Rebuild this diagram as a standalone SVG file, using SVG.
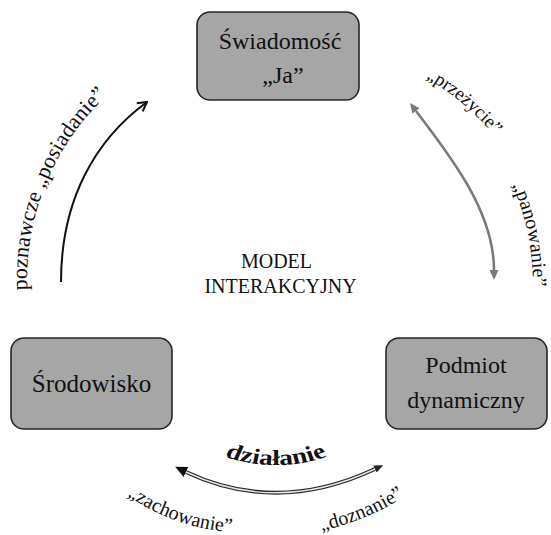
<svg xmlns="http://www.w3.org/2000/svg" width="551" height="535" viewBox="0 0 551 535">
  <style>
    .box { fill: #a6a6a6; stroke: #262626; stroke-width: 1.6; }
    text { font-family: "Liberation Serif", "Times New Roman", Times, serif; fill: #111; }
    .bt { font-size: 24px; text-anchor: middle; }
    .lbl { font-size: 20px; }
  </style>
  <defs>
    <marker id="open" viewBox="-11 -6 12 12" refX="0" refY="0" markerWidth="12" markerHeight="12" markerUnits="userSpaceOnUse" orient="auto">
      <path d="M-9,-5 L0,0 L-9,5" fill="none" stroke="#111" stroke-width="2"/>
    </marker>
    <marker id="gray" viewBox="0 -6 11 12" refX="0" refY="0" markerWidth="11" markerHeight="12" markerUnits="userSpaceOnUse" orient="auto-start-reverse">
      <path d="M0,-4.5 L10,0 L0,4.5 Z" fill="#7a7a7a"/>
    </marker>
    <marker id="bigL" viewBox="0 -7 13 14" refX="0" refY="0" markerWidth="13" markerHeight="14" markerUnits="userSpaceOnUse" orient="auto-start-reverse">
      <path d="M0,-5.5 L12,0 L0,5.5 Z" fill="#111"/>
    </marker>
    <marker id="smallR" viewBox="0 -6 10 12" refX="0" refY="0" markerWidth="10" markerHeight="12" markerUnits="userSpaceOnUse" orient="auto">
      <path d="M0,-4 L9,0 L0,4 Z" fill="#222"/>
    </marker>
    <path id="pLeft" d="M27.2,290.2 A253,253 0 0 1 124.2,80.6"/>
    <path id="pPrz" d="M426,78 A255,255 0 0 1 519.3,171.3"/>
    <path id="pPan" d="M512.4,184.9 A253,253 0 0 1 532,307"/>
    <path id="pZach" d="M127.4,495.4 A205,205 0 0 0 280.6,529.4"/>
    <path id="pDoz" d="M321.6,530.6 A248,248 0 0 0 429.4,478"/>
    <path id="pDzi" d="M216,446 A104,104 0 0 0 336,446"/>
  </defs>

  <g id="connectors">
    <path id="c-left" d="M61,282 C61,200 95,140 147,102" fill="none" stroke="#111" stroke-width="2" marker-end="url(#open)"/>
    <path id="c-right" d="M416,111 C447,152 494,210 494,270" fill="none" stroke="#7a7a7a" stroke-width="2.6" marker-start="url(#gray)" marker-end="url(#gray)"/>
    <g id="c-bottom">
      <path d="M186,472 Q277,515 375,469" fill="none" stroke="#2a2a2a" stroke-width="4" marker-start="url(#bigL)" marker-end="url(#smallR)"/>
      <path d="M186,472 Q277,515 375,469" fill="none" stroke="#e6e6e6" stroke-width="1.4"/>
    </g>
  </g>

  <g id="node-swiadomosc">
    <rect class="box" x="197" y="12" width="162" height="88" rx="13"/>
    <text class="bt" x="280" y="49">Świadomość</text>
    <text class="bt" x="283" y="83">„Ja”</text>
  </g>

  <g id="node-srodowisko">
    <rect class="box" x="11" y="338" width="161" height="91" rx="13"/>
    <text class="bt" x="91.5" y="392" style="font-size:25px">Środowisko</text>
  </g>

  <g id="node-podmiot">
    <rect class="box" x="386" y="338" width="161" height="91" rx="13"/>
    <text class="bt" x="466" y="373">Podmiot</text>
    <text class="bt" x="466" y="408">dynamiczny</text>
  </g>

  <g id="center-label">
    <text x="276.5" y="268" style="font-size:20px;text-anchor:middle">MODEL</text>
    <text x="280.5" y="293" style="font-size:20px;text-anchor:middle">INTERAKCYJNY</text>
  </g>

  <g id="labels">
    <text style="font-size:22px"><textPath href="#pLeft">poznawcze „posiadanie”</textPath></text>
    <text style="font-size:19px"><textPath href="#pPrz">„przeżycie”</textPath></text>
    <text class="lbl"><textPath href="#pPan">„panowanie”</textPath></text>
    <text class="lbl"><textPath href="#pZach">„zachowanie”</textPath></text>
    <text class="lbl"><textPath href="#pDoz">„doznanie”</textPath></text>
    <g transform="translate(276,0) scale(1.25,1) translate(-276,0)">
      <text style="font-size:22px;font-weight:bold"><textPath href="#pDzi" startOffset="50%" text-anchor="middle">działanie</textPath></text>
    </g>
  </g>
</svg>
